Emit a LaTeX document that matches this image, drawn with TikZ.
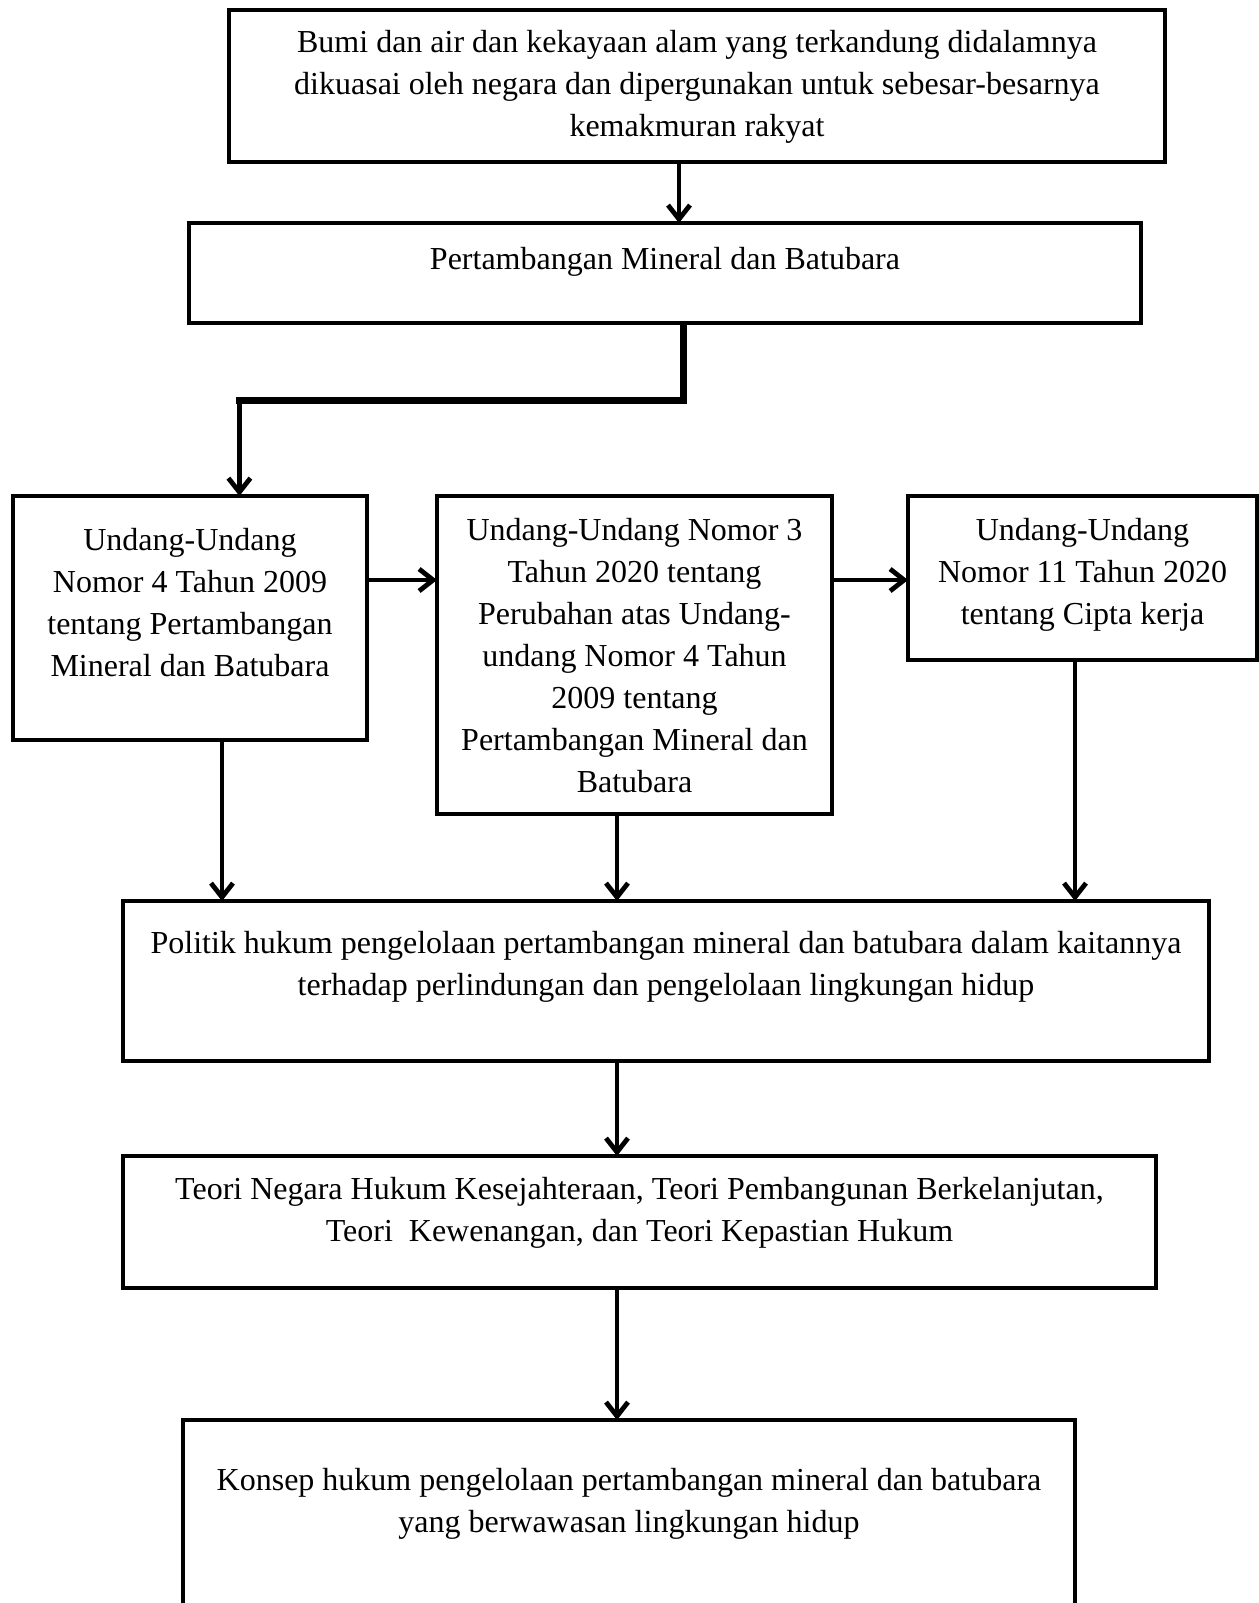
\documentclass[tikz,border=0pt]{standalone}
\usepackage{fontspec}
\setmainfont{Liberation Serif}
\usepackage{tikz}
\usetikzlibrary{positioning,arrows.meta}
\newcommand{\boxtext}[4]{\parbox[c][#2][t]{#1}{\centering\vspace*{#3}#4}}

\begin{document}
\begin{tikzpicture}[
  box/.style={draw, line width=2.2pt, inner sep=0pt, outer sep=0pt, font=\fontsize{16pt}{21pt}\selectfont},
  arr/.style={-{Straight Barb[length=7pt,width=11pt]}, line width=2.4pt},
  bus/.style={line width=3.4pt}]
  \useasboundingbox (0,0) rectangle (629.5pt,-801.5pt);
  \node[box, anchor=north west] (uud) at (114.5pt,-5pt) {\boxtext{468pt}{76pt}{10pt}{Bumi dan air dan kekayaan alam yang terkandung didalamnya\\dikuasai oleh negara dan dipergunakan untuk sebesar-besarnya\\kemakmuran rakyat}};
  \node[box, below right=30.5pt and -20pt of uud.south west] (minerba) {\boxtext{476pt}{50pt}{12pt}{Pertambangan Mineral dan Batubara}};
  \node[box, below right=86.5pt and -88pt of minerba.south west] (uu4) {\boxtext{177pt}{122pt}{16pt}{Undang-Undang\\Nomor 4 Tahun 2009\\tentang Pertambangan\\Mineral dan Batubara}};
  \node[box, right=35pt of uu4.north east, anchor=north west] (uu3) {\boxtext{197.5pt}{159pt}{11pt}{Undang-Undang Nomor 3\\Tahun 2020 tentang\\Perubahan atas Undang-\\undang Nomor 4 Tahun\\2009 tentang\\Pertambangan Mineral dan\\Batubara}};
  \node[box, right=38pt of uu3.north east, anchor=north west] (uu11) {\boxtext{174.5pt}{82pt}{11pt}{Undang-Undang\\Nomor 11 Tahun 2020\\tentang Cipta kerja}};
  \node[box, below right=80.5pt and 55pt of uu4.south west] (politik) {\boxtext{543pt}{80pt}{15pt}{Politik hukum pengelolaan pertambangan mineral dan batubara dalam kaitannya\\terhadap perlindungan dan pengelolaan lingkungan hidup}};
  \node[box, below right=47.5pt and 0pt of politik.south west] (teori) {\boxtext{516.5pt}{66pt}{10.8pt}{Teori Negara Hukum Kesejahteraan, Teori Pembangunan Berkelanjutan,\\Teori\ \ Kewenangan, dan Teori Kepastian Hukum}};
  \node[box, below right=66pt and 30pt of teori.south west] (konsep) {\boxtext{446pt}{120pt}{24pt}{Konsep hukum pengelolaan pertambangan mineral dan batubara\\yang berwawasan lingkungan hidup}};
  % top part
  \draw[arr] ([xshift=-9pt]uud.south) coordinate (v0) -- (v0 |- minerba.north);
  \coordinate (drop) at ([xshift=24.7pt]uu4.north);
  \draw[bus] ([xshift=9.3pt]minerba.south) -- ++(0,-38.8pt) coordinate (bend) -- ([xshift=-1.5pt]bend -| drop);
  \draw[arr] (bend -| drop) -- (drop);
  % the three laws
  \draw[arr] ([yshift=-42pt]uu4.north east) coordinate (h1) -- (h1 -| uu3.west);
  \draw[arr] ([yshift=-42pt]uu3.north east) coordinate (h2) -- (h2 -| uu11.west);
  \draw[arr] ([xshift=16pt]uu4.south) coordinate (v1) -- (v1 |- politik.north);
  \draw[arr] ([xshift=-8.75pt]uu3.south) coordinate (spine) -- (spine |- politik.north);
  \draw[arr] ([xshift=-3.75pt]uu11.south) coordinate (v3) -- (v3 |- politik.north);
  % down to the concept
  \draw[arr] (spine |- politik.south) -- (spine |- teori.north);
  \draw[arr] (spine |- teori.south) -- (spine |- konsep.north);
\end{tikzpicture}
\end{document}
